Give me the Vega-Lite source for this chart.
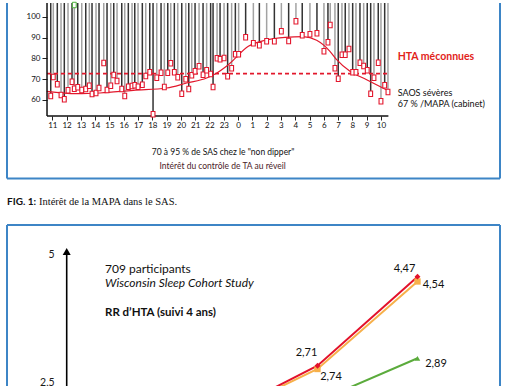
{
  "$schema": "https://vega.github.io/schema/vega-lite/v6.json",
  "padding": 0,
  "background": "white",
  "spacing": 11,
  "config": {"view": {"stroke": null}, "font": "Lato", "axis": {"labelFont": "Lato"}},
  "resolve": {"scale": {"x": "independent", "y": "independent", "color": "independent", "shape": "independent", "size": "independent"}},
  "datasets": {
    "bp": [
      {"t":10.89,"v":61.78,"g":"d"},{"t":11.07,"v":70.97,"g":"l"},{"t":11.35,"v":67.44,"g":"d"},{"t":11.61,"v":62.26,"g":"l"},
      {"t":11.84,"v":60.18,"g":"d"},{"t":12.10,"v":64.54,"g":"l"},{"t":12.38,"v":68.70,"g":"d"},{"t":12.54,"v":65.31,"g":"l"},
      {"t":12.78,"v":65.99,"g":"d"},{"t":13.06,"v":64.68,"g":"l"},{"t":13.34,"v":65.17,"g":"d"},{"t":13.59,"v":66.76,"g":"l"},
      {"t":13.78,"v":62.75,"g":"d"},{"t":14.06,"v":63.23,"g":"l"},{"t":14.27,"v":65.65,"g":"d"},{"t":14.60,"v":77.75,"g":"l"},
      {"t":14.83,"v":64.68,"g":"d"},{"t":15.09,"v":66.76,"g":"l"},{"t":15.30,"v":71.94,"g":"d"},{"t":15.53,"v":69.04,"g":"l"},
      {"t":15.86,"v":65.17,"g":"d"},{"t":16.07,"v":61.78,"g":"l"},{"t":16.32,"v":66.28,"g":"d"},{"t":16.58,"v":66.62,"g":"l"},
      {"t":16.77,"v":66.96,"g":"d"},{"t":17.00,"v":66.28,"g":"l"},{"t":17.30,"v":67.25,"g":"d"},{"t":17.54,"v":71.46,"g":"l"},
      {"t":17.82,"v":73.25,"g":"d"},{"t":18.05,"v":52.93,"g":"d"},{"t":18.31,"v":70.63,"g":"l"},{"t":18.61,"v":73.05,"g":"d"},
      {"t":18.84,"v":66.13,"g":"l"},{"t":19.08,"v":73.05,"g":"d"},{"t":19.29,"v":77.60,"g":"l"},{"t":19.54,"v":73.25,"g":"d"},
      {"t":19.78,"v":70.83,"g":"l"},{"t":20.06,"v":62.89,"g":"d"},{"t":20.34,"v":69.86,"g":"l"},{"t":20.55,"v":65.17,"g":"d"},
      {"t":20.76,"v":71.80,"g":"l"},{"t":20.99,"v":73.73,"g":"d"},{"t":21.27,"v":76.15,"g":"l"},{"t":21.55,"v":72.09,"g":"d"},
      {"t":21.80,"v":74.21,"g":"l"},{"t":22.08,"v":72.42,"g":"d"},{"t":22.25,"v":66.13,"g":"d"},{"t":22.53,"v":80.02,"g":"l"},
      {"t":22.74,"v":79.54,"g":"d"},{"t":23.02,"v":80.16,"g":"l"},{"t":23.27,"v":71.31,"g":"d"},{"t":23.55,"v":75.18,"g":"l"},
      {"t":23.81,"v":81.95,"g":"d"},{"t":24.04,"v":81.95,"g":"l"},{"t":24.53,"v":90.18,"g":"d"},{"t":25.07,"v":87.28,"g":"l"},
      {"t":25.49,"v":86.31,"g":"d"},{"t":26.00,"v":88.24,"g":"l"},{"t":26.54,"v":88.24,"g":"d"},{"t":27.03,"v":93.08,"g":"l"},
      {"t":27.54,"v":88.39,"g":"d"},{"t":28.05,"v":97.92,"g":"l"},{"t":28.49,"v":91.15,"g":"d"},{"t":29.03,"v":91.63,"g":"l"},
      {"t":29.52,"v":92.11,"g":"d"},{"t":30.01,"v":83.41,"g":"l"},{"t":30.29,"v":87.76,"g":"d"},{"t":30.45,"v":96.13,"g":"l"},
      {"t":30.78,"v":75.18,"g":"l"},{"t":31.01,"v":70.15,"g":"d"},{"t":31.27,"v":81.76,"g":"l"},{"t":31.50,"v":81.76,"g":"d"},
      {"t":31.76,"v":84.52,"g":"l"},{"t":32.02,"v":73.25,"g":"d"},{"t":32.25,"v":73.25,"g":"l"},{"t":32.53,"v":77.89,"g":"d"},
      {"t":32.79,"v":76.29,"g":"l"},{"t":33.04,"v":74.21,"g":"d"},{"t":33.28,"v":62.89,"g":"d"},{"t":33.51,"v":70.63,"g":"l"},
      {"t":33.81,"v":77.89,"g":"d"},{"t":34.00,"v":59.22,"g":"l"},{"t":34.26,"v":66.96,"g":"d"},{"t":34.49,"v":63.72,"g":"l"}
    ],
    "curve": [
      {"t":10.61,"v":64.05},{"t":12.71,"v":62.89},{"t":14.34,"v":63.23},{"t":16.67,"v":64.54},{"t":19.01,"v":65.65},
      {"t":20.41,"v":68.07},{"t":21.80,"v":70.49},{"t":22.39,"v":72.42},{"t":23.32,"v":76.92},{"t":24.72,"v":85.83},
      {"t":25.89,"v":88.73},{"t":27.29,"v":90.18},{"t":28.56,"v":90.47},{"t":29.50,"v":88.73},{"t":30.43,"v":83.41},
      {"t":30.90,"v":79.34},{"t":31.83,"v":73.73},{"t":33.00,"v":69.67},{"t":34.44,"v":64.54}
    ],
    "lines1": [
      {"k":"frame","t":7.83,"t2":7.83,"v":21.87,"v2":106.77},
      {"k":"frame","t":42.33,"t2":42.33,"v":21.87,"v2":106.77},
      {"k":"frame","t":7.83,"t2":42.33,"v":21.87,"v2":21.87},
      {"k":"axis","t":10.63,"t2":10.63,"v":52.1,"v2":106.77},
      {"k":"axis","t":10.63,"t2":34.52,"v":52.1,"v2":52.1},
      {"k":"limit","t":10.63,"t2":34.52,"v":72.6,"v2":72.6}
    ],
    "notes1": [
      {"k":"hta","t":35.17,"v":80.5,"txt":"HTA méconnues"},
      {"k":"side","t":35.17,"v":63.23,"txt":"SAOS sévères"},
      {"k":"side","t":35.17,"v":58.05,"txt":"67 % /MAPA (cabinet)"},
      {"k":"sub","t":22.95,"v":34.54,"txt":"70 à  95 % de SAS chez le \"non dipper\""},
      {"k":"sub2","t":22.92,"v":28.06,"txt":"Intérêt du contrôle de TA au réveil"},
      {"k":"fig","t":7.83,"v":10.5,"txt":"FIG. 1:"},
      {"k":"cap","t":10.07,"v":10.5,"txt":"Intérêt de la MAPA dans le SAS."}
    ],
    "rr": [
      {"series":"orange","level":2,"rr":1.85,"label":""},
      {"series":"orange","level":3,"rr":2.791,"label":"2,74"},
      {"series":"orange","level":4,"rr":4.497,"label":"4,54"},
      {"series":"red","level":2,"rr":1.86,"label":""},
      {"series":"red","level":3,"rr":2.856,"label":"2,71"},
      {"series":"red","level":4,"rr":4.591,"label":"4,47"},
      {"series":"green","level":3,"rr":2.16,"label":""},
      {"series":"green","level":4,"rr":3.0,"label":"2,89"}
    ],
    "lines2": [
      {"k":"frame","level":-0.105,"level2":-0.105,"rr":2.382,"rr2":5.598},
      {"k":"frame","level":4.825,"level2":4.825,"rr":2.382,"rr2":5.598},
      {"k":"frame","level":-0.105,"level2":4.825,"rr":5.598,"rr2":5.598},
      {"k":"axis","level":0.492,"level2":0.492,"rr":2.382,"rr2":5.033}
    ],
    "arrow": [{"level":0.492,"rr":5.082}],
    "notes2": [
      {"k":"n","level":0.875,"rr":4.741,"txt":"709 participants"},
      {"k":"i","level":0.875,"rr":4.468,"txt":"Wisconsin Sleep Cohort Study"},
      {"k":"b","level":0.875,"rr":3.877,"txt":"RR d’HTA (suivi 4 ans)"}
    ]
  },
  "vconcat": [
    {
      "width": 507,
      "height": 210,
      "encoding": {
        "x": {"field": "t", "type": "quantitative",
          "scale": {"domain": [7.34, 42.82], "nice": false, "zero": false},
          "axis": {"title": null, "domain": false, "grid": false,
            "values": [11,12,13,14,15,16,17,18,19,20,21,22,23,24,25,26,27,28,29,30,31,32,33,34],
            "labelExpr": "'' + (datum.value % 24)", "offset": -97, "tickSize": 4, "tickColor": "#222222", "tickWidth": 1,
            "labelFontSize": 8, "labelPadding": 1, "labelColor": "#111111", "labelOverlap": false, "labelFlush": false}},
        "y": {"field": "v", "type": "quantitative",
          "scale": {"domain": [5.18, 106.77], "nice": false, "zero": false},
          "axis": {"title": null, "domain": false, "grid": false, "values": [60,70,80,90,100],
            "offset": -47, "tickSize": 5, "tickColor": "#222222", "tickWidth": 1,
            "labelFontSize": 8, "labelPadding": 2, "labelColor": "#111111"}}
      },
      "layer": [
        {"data": {"name": "bp"}, "mark": {"type": "rule", "strokeWidth": 1.5, "clip": true},
          "encoding": {"y2": {"datum": 125},
            "color": {"field": "g", "type": "nominal", "scale": {"domain": ["d","l"], "range": ["#333333","#a3a3a3"]}, "legend": null}}},
        {"data": {"values": [{"t": 12.54, "v": 105.8}]},
          "mark": {"type": "point", "shape": "M-0.7,-1L0.7,-1L0.7,1L-0.7,1Z", "size": 30, "filled": false, "fill": "white", "stroke": "#4caf3a", "strokeWidth": 1, "opacity": 1}},
        {"data": {"name": "curve"}, "mark": {"type": "line", "interpolate": "monotone", "color": "#e2182c", "strokeWidth": 1.2}},
        {"data": {"name": "lines1"}, "transform": [{"filter": "datum.k == 'limit'"}],
          "mark": {"type": "rule", "color": "#e2182c", "strokeWidth": 1.6, "strokeDash": [4,3]},
          "encoding": {"x2": {"field": "t2"}, "y2": {"field": "v2"}}},
        {"data": {"name": "lines1"}, "transform": [{"filter": "datum.k == 'axis'"}],
          "mark": {"type": "rule", "color": "#111111", "strokeWidth": 1.5},
          "encoding": {"x2": {"field": "t2"}, "y2": {"field": "v2"}}},
        {"data": {"name": "bp"},
          "mark": {"type": "point", "shape": "M-0.7,-1L0.7,-1L0.7,1L-0.7,1Z", "size": 30, "filled": false, "fill": "white", "stroke": "#e3172d", "strokeWidth": 1.1, "opacity": 1}},
        {"data": {"name": "lines1"}, "transform": [{"filter": "datum.k == 'frame'"}],
          "mark": {"type": "rule", "color": "#3d85c6", "strokeWidth": 2},
          "encoding": {"x2": {"field": "t2"}, "y2": {"field": "v2"}}},
        {"data": {"name": "notes1"}, "transform": [{"filter": "datum.k == 'hta'"}],
          "mark": {"type": "text", "align": "left", "baseline": "middle", "fontSize": 10.5, "fontWeight": "bold", "color": "#e2231a"},
          "encoding": {"text": {"field": "txt"}}},
        {"data": {"name": "notes1"}, "transform": [{"filter": "datum.k == 'side'"}],
          "mark": {"type": "text", "align": "left", "baseline": "middle", "fontSize": 9, "color": "#111111"},
          "encoding": {"text": {"field": "txt"}}},
        {"data": {"name": "notes1"}, "transform": [{"filter": "datum.k == 'sub'"}],
          "mark": {"type": "text", "align": "center", "baseline": "middle", "fontSize": 8.5, "color": "#111111"},
          "encoding": {"text": {"field": "txt"}}},
        {"data": {"name": "notes1"}, "transform": [{"filter": "datum.k == 'sub2'"}],
          "mark": {"type": "text", "align": "center", "baseline": "middle", "fontSize": 8.5, "color": "#4a1a28"},
          "encoding": {"text": {"field": "txt"}}},
        {"data": {"name": "notes1"}, "transform": [{"filter": "datum.k == 'fig'"}],
          "mark": {"type": "text", "align": "left", "baseline": "middle", "fontSize": 10, "fontWeight": "bold", "color": "#111111"},
          "encoding": {"text": {"field": "txt"}}},
        {"data": {"name": "notes1"}, "transform": [{"filter": "datum.k == 'cap'"}],
          "mark": {"type": "text", "align": "left", "baseline": "middle", "fontSize": 10.5, "font": "Liberation Serif", "color": "#111111"},
          "encoding": {"text": {"field": "txt"}}}
      ]
    },
    {
      "width": 507,
      "height": 165,
      "encoding": {
        "x": {"field": "level", "type": "quantitative", "scale": {"domain": [-0.175, 4.895], "nice": false, "zero": false}, "axis": null},
        "y": {"field": "rr", "type": "quantitative", "scale": {"domain": [2.382, 5.598], "nice": false, "zero": false},
          "axis": {"title": null, "domain": false, "grid": false, "ticks": false, "tickSize": 0, "values": [2.5, 5],
            "labelExpr": "replace('' + datum.value, '.', ',')", "offset": -66.7, "labelPadding": 12.5, "labelOffset": -1.5,
            "labelFontSize": 10.5, "labelColor": "#1a1a1a"}}
      },
      "layer": [
        {"data": {"name": "lines2"}, "transform": [{"filter": "datum.k == 'frame'"}],
          "mark": {"type": "rule", "color": "#3d85c6", "strokeWidth": 2},
          "encoding": {"x2": {"field": "level2"}, "y2": {"field": "rr2"}}},
        {"data": {"name": "lines2"}, "transform": [{"filter": "datum.k == 'axis'"}],
          "mark": {"type": "rule", "color": "#000000", "strokeWidth": 1.6},
          "encoding": {"x2": {"field": "level2"}, "y2": {"field": "rr2"}}},
        {"data": {"name": "arrow"}, "mark": {"type": "point", "shape": "triangle-up", "size": 64, "filled": true, "color": "#000000", "opacity": 1}},
        {"data": {"name": "rr"}, "mark": {"type": "line", "strokeWidth": 2, "clip": true},
          "encoding": {"color": {"field": "series", "type": "nominal", "scale": {"domain": ["orange","red","green"], "range": ["#f7b04a","#e3122b","#5bab3c"]}, "legend": null}}},
        {"data": {"name": "rr"}, "mark": {"type": "point", "filled": true, "opacity": 1, "clip": true},
          "encoding": {
            "color": {"field": "series", "type": "nominal", "scale": {"domain": ["orange","red","green"], "range": ["#f7b04a","#e3122b","#5bab3c"]}, "legend": null},
            "shape": {"field": "series", "type": "nominal", "scale": {"domain": ["orange","red","green"], "range": ["square","diamond","triangle-up"]}, "legend": null},
            "size": {"field": "series", "type": "nominal", "scale": {"domain": ["orange","red","green"], "range": [40, 30, 45]}, "legend": null}}},
        {"data": {"name": "rr"}, "transform": [{"filter": "datum.label == '4,47'"}], "mark": {"type": "text", "fontSize": 11, "dx": -13, "dy": -8, "color": "#111111"}, "encoding": {"text": {"field": "label"}}},
        {"data": {"name": "rr"}, "transform": [{"filter": "datum.label == '2,71'"}], "mark": {"type": "text", "fontSize": 11, "dx": -11, "dy": -13, "color": "#111111"}, "encoding": {"text": {"field": "label"}}},
        {"data": {"name": "rr"}, "transform": [{"filter": "datum.label == '4,54'"}], "mark": {"type": "text", "fontSize": 11, "dx": 16, "dy": 3.5, "color": "#111111"}, "encoding": {"text": {"field": "label"}}},
        {"data": {"name": "rr"}, "transform": [{"filter": "datum.label == '2,74'"}], "mark": {"type": "text", "fontSize": 11, "dx": 13.5, "dy": 8, "color": "#111111"}, "encoding": {"text": {"field": "label"}}},
        {"data": {"name": "rr"}, "transform": [{"filter": "datum.label == '2,89'"}], "mark": {"type": "text", "fontSize": 11, "dx": 18.5, "dy": 6, "color": "#111111"}, "encoding": {"text": {"field": "label"}}},
        {"data": {"name": "notes2"}, "transform": [{"filter": "datum.k == 'n'"}],
          "mark": {"type": "text", "align": "left", "baseline": "middle", "fontSize": 12, "color": "#111111"},
          "encoding": {"text": {"field": "txt"}}},
        {"data": {"name": "notes2"}, "transform": [{"filter": "datum.k == 'i'"}],
          "mark": {"type": "text", "align": "left", "baseline": "middle", "fontSize": 12, "fontStyle": "italic", "color": "#111111"},
          "encoding": {"text": {"field": "txt"}}},
        {"data": {"name": "notes2"}, "transform": [{"filter": "datum.k == 'b'"}],
          "mark": {"type": "text", "align": "left", "baseline": "middle", "fontSize": 11.5, "fontWeight": "bold", "color": "#111111"},
          "encoding": {"text": {"field": "txt"}}}
      ]
    }
  ]
}
